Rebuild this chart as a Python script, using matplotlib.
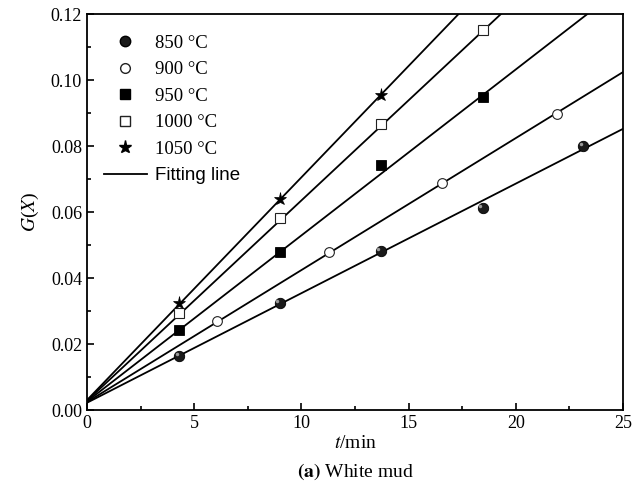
import matplotlib
matplotlib.use("Agg")
import matplotlib.pyplot as plt
from matplotlib.lines import Line2D
import numpy as np

plt.rcParams['font.family'] = ['Liberation Serif', 'DejaVu Serif']
plt.rcParams['mathtext.fontset'] = 'stix'

# --- data ---
labels = ['850 °C', '900 °C', '950 °C', '1000 °C', '1050 °C']

t_850 = [4.3, 9.0, 13.7, 18.45, 23.15]
g_850 = [0.0165, 0.0323, 0.0483, 0.0611, 0.0800]

t_900 = [6.05, 11.3, 16.55, 21.9]
g_900 = [0.0270, 0.0480, 0.0688, 0.0897]

t_950 = [4.3, 9.0, 13.7, 18.45]
g_950 = [0.0241, 0.0478, 0.0741, 0.0949]

t_1000 = [4.3, 9.0, 13.7, 18.45]
g_1000 = [0.0295, 0.0581, 0.0866, 0.1151]

t_1050 = [4.3, 9.0, 13.7]
g_1050 = [0.0325, 0.0639, 0.0955]

# fitting lines (slope, intercept)
fit_slope = [0.00332, 0.00400, 0.00503, 0.00607, 0.00675]
fit_icpt = [0.0022, 0.0024, 0.0026, 0.0028, 0.0030]

fig = plt.figure(figsize=(6.41, 4.88), dpi=100)
ax = fig.add_axes([0.1357, 0.1598, 0.8362, 0.8115])

# fitting lines
tt = np.linspace(0, 25, 200)
for k, b in zip(fit_slope, fit_icpt):
    ax.plot(tt, k * tt + b, color='black', lw=1.3, zorder=2)

# 850: shaded ball
ax.plot(t_850, g_850, 'o', ms=7.5, mfc='#1a1a1a', mec='black', mew=0.6, zorder=4)
ax.plot(np.array(t_850) - 0.12, np.array(g_850) + 0.0006, 'o', ms=2.5,
        mfc='#9a9a9a', mec='none', zorder=5)
ax.plot(t_900, g_900, 'o', ms=7, mfc='white', mec='#222222', mew=0.8, zorder=4)
ax.plot(t_950, g_950, 's', ms=6.5, mfc='black', mec='black', mew=0.6, zorder=4)
ax.plot(t_1000, g_1000, 's', ms=6.5, mfc='white', mec='#222222', mew=0.8, zorder=4)
ax.plot(t_1050, g_1050, '*', ms=9.5, mfc='black', mec='black', mew=0.5, zorder=4)

ax.set_xlim(0, 25)
ax.set_ylim(0, 0.12)
ax.set_xticks([0, 5, 10, 15, 20, 25])
ax.set_xticks(np.arange(0, 25.1, 2.5), minor=True)
ax.set_yticks(np.arange(0, 0.121, 0.02))
ax.set_yticks(np.arange(0, 0.121, 0.01), minor=True)
ax.yaxis.set_major_formatter(plt.FormatStrFormatter('%.2f'))
ax.tick_params(which='both', direction='in', top=False, right=False,
               labelsize=13, width=1.2)
ax.tick_params(which='major', length=5)
ax.tick_params(which='minor', length=3)
for s in ax.spines.values():
    s.set_linewidth(1.3)

ax.set_ylabel(r'$G$($X$)', fontsize=14, labelpad=7)
ax.set_xlabel(r'$t$/min', fontsize=14, labelpad=2)
fig.text(0.555, 0.022, r'$\mathbf{(a)}$ White mud', ha='center', fontsize=14)

# legend
handles = [
    Line2D([], [], ls='none', marker='o', ms=7.5, mfc='#1a1a1a', mec='black'),
    Line2D([], [], ls='none', marker='o', ms=7, mfc='white', mec='#222222'),
    Line2D([], [], ls='none', marker='s', ms=6.5, mfc='black', mec='black'),
    Line2D([], [], ls='none', marker='s', ms=6.5, mfc='white', mec='#222222'),
    Line2D([], [], ls='none', marker='*', ms=9.5, mfc='black', mec='black'),
    Line2D([], [], color='black', lw=1.3),
]
leg = ax.legend(handles, labels + ['Fitting line'], loc='upper left',
                bbox_to_anchor=(0.0, 0.99), frameon=False, fontsize=13.5,
                handlelength=2.3, handletextpad=0.45, labelspacing=0.5,
                borderaxespad=0.5)
leg.get_texts()[-1].set_fontfamily(['Liberation Sans', 'DejaVu Sans'])

fig.savefig('out.png', dpi=100)
